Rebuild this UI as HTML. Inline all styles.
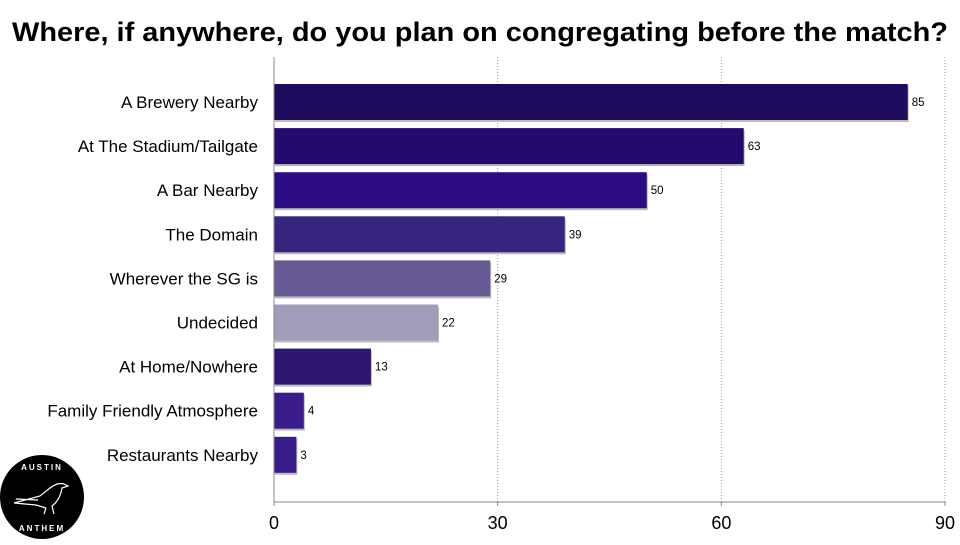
<!DOCTYPE html>
<html><head><meta charset="utf-8"><style>
body{margin:0;background:#fff;width:960px;height:540px;overflow:hidden;font-family:"Liberation Sans",sans-serif}
</style></head><body>
<svg width="960" height="540">
<text x="12" y="41" textLength="936" lengthAdjust="spacingAndGlyphs" font-size="27" font-weight="bold" fill="#000">Where, if anywhere, do you plan on congregating before the match?</text>
<g id="grid"></g><g id="bars"></g><g id="axes"></g>
<g>
<circle cx="42" cy="497" r="42" fill="#000"/>
<path d="M14 503 L40 496 L50 488 Q58 482 64 484 L68 486 L62 488 Q60 500 52 506 L54 514 M46 508 L44 514 M14 503 L36 505 L46 508 M16 499 L38 500" stroke="#fff" stroke-width="1.2" fill="none"/>
<text x="42" y="470" text-anchor="middle" font-size="8" fill="#fff" letter-spacing="2" font-weight="bold">AUSTIN</text>
<text x="42" y="531" text-anchor="middle" font-size="8" fill="#fff" letter-spacing="2" font-weight="bold">ANTHEM</text>
</g>
</svg>
<script>
const categories=["A Brewery Nearby","At The Stadium/Tailgate","A Bar Nearby","The Domain","Wherever the SG is","Undecided","At Home/Nowhere","Family Friendly Atmosphere","Restaurants Nearby"];
const values=[85,63,50,39,29,22,13,4,3];
const colors=["#1f0b5e","#230a6c","#2b0c82","#36247f","#675a94","#a09cba","#2e1570","#3a1d8a","#3a1d8a"];
const ticks=[0,30,60,90];
const NS="http://www.w3.org/2000/svg";
const x0=274,x1=945,yTop=57,yBot=502,rowTop=84,rowStep=44.1,bh=36;
const xs=v=>x0+(v/90)*(x1-x0);
const ys=i=>rowTop+i*rowStep;
function mk(t,a,p){const e=document.createElementNS(NS,t);for(const k in a)e.setAttribute(k,a[k]);p.appendChild(e);return e;}
const grid=document.getElementById('grid'),bars=document.getElementById('bars'),axes=document.getElementById('axes');
ticks.forEach(t=>{
 if(t>0){const g=mk('line',{x1:xs(t),x2:xs(t),y1:yTop,y2:yBot,stroke:'#999','stroke-dasharray':'1,2'},grid);
 
 }
 const tk=mk('line',{x1:xs(t),x2:xs(t),y1:yBot,y2:yBot+4,stroke:'#888'},axes);
 
 
 const lb=mk('text',{x:xs(t),y:yBot+27,'text-anchor':'middle','font-size':18,fill:'#000'},axes);
 lb.textContent=t;
 
 
});
const ax=mk('line',{x1:x0,x2:x0,y1:yTop,y2:yBot,stroke:'#888'},axes);


const xa=mk('line',{x1:x0,x2:x1,y1:yBot,y2:yBot,stroke:'#888'},axes);


categories.forEach((c,i)=>{
 const y=ys(i);
 const sh=mk('rect',{x:x0+1,y:y+2,width:xs(values[i])-x0,height:bh,fill:'#bbb'},bars);
 
 
 const r=mk('rect',{x:x0,y:y,width:xs(values[i])-x0,height:bh,fill:colors[i]},bars);
 
 
 const v=mk('text',{x:xs(values[i])+4,y:y+bh/2+4,'font-size':11.5,fill:'#000'},bars);
 v.textContent=values[i];
 
 
 const l=mk('text',{x:258,y:y+bh/2+6,'text-anchor':'end','font-size':17,fill:'#000'},bars);
 l.textContent=c;
 
 
});
</script>
</body></html>
